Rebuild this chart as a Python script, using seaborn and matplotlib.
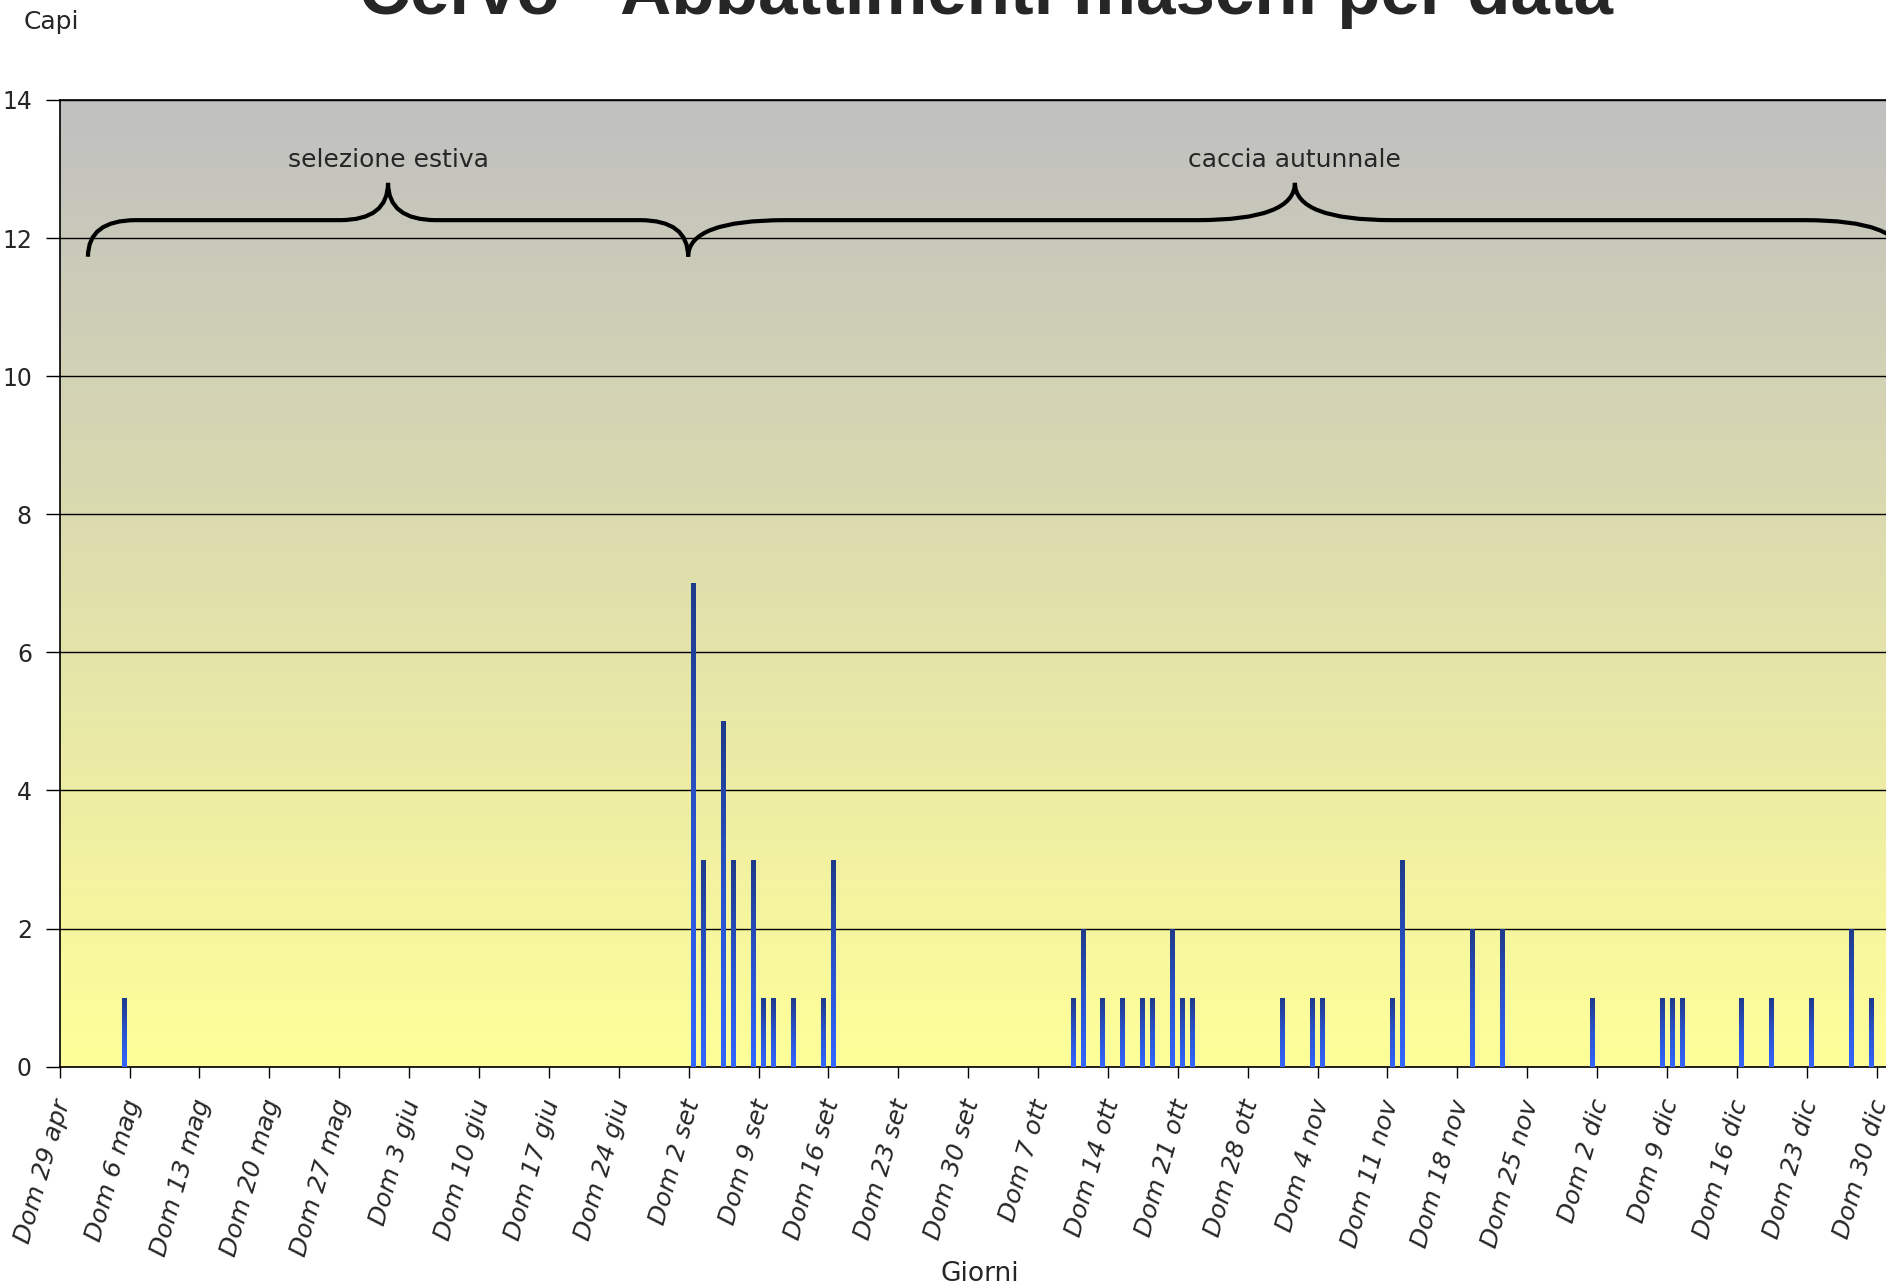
import numpy as np
import pandas as pd
import matplotlib
matplotlib.use('Agg')
import matplotlib.pyplot as plt
import matplotlib.transforms as mtransforms
from matplotlib.colors import LinearSegmentedColormap
from matplotlib.path import Path
from matplotlib.patches import PathPatch
import seaborn as sns

# periodi di caccia riportati sull'asse (solo i giorni aperti)
periodi = [('2007-04-29', '2007-06-30'), ('2007-09-02', '2007-12-31')]
fasi = ['selezione estiva', 'caccia autunnale']

# giorni con abbattimenti e capi abbattuti
giorni = ['2007-05-05', '2007-09-02', '2007-09-03', '2007-09-05', '2007-09-06',
          '2007-09-08', '2007-09-09', '2007-09-10', '2007-09-12', '2007-09-15',
          '2007-09-16', '2007-10-10', '2007-10-11', '2007-10-13', '2007-10-15',
          '2007-10-17', '2007-10-18', '2007-10-20', '2007-10-21', '2007-10-22',
          '2007-10-31', '2007-11-03', '2007-11-04', '2007-11-11', '2007-11-12',
          '2007-11-19', '2007-11-22', '2007-12-01', '2007-12-08', '2007-12-09',
          '2007-12-10', '2007-12-16', '2007-12-19', '2007-12-23', '2007-12-27',
          '2007-12-29']
capi = [1, 7, 3, 5, 3,
        3, 1, 1, 1, 1,
        3, 1, 2, 1, 1,
        1, 1, 2, 1, 1,
        1, 1, 1, 1, 3,
        2, 2, 1, 1, 1,
        1, 1, 1, 1, 2,
        1]

mesi = {4: 'apr', 5: 'mag', 6: 'giu', 7: 'lug', 8: 'ago', 9: 'set',
        10: 'ott', 11: 'nov', 12: 'dic'}
giorni_sett = ['Lun', 'Mar', 'Mer', 'Gio', 'Ven', 'Sab', 'Dom']

# calendario completo dei giorni sull'asse
calendario = pd.DatetimeIndex(np.concatenate([pd.date_range(a, b).values for a, b in periodi]))
df = pd.DataFrame({'data': calendario})
df['capi'] = df['data'].map(dict(zip(pd.to_datetime(giorni), capi))).fillna(0)
df['giorno'] = df['data'].dt.strftime('%Y-%m-%d')
n = len(df)

sns.set_style('ticks')
plt.rcParams['font.family'] = ['DejaVu Sans']

fig = plt.figure(figsize=(18.86, 12.87), dpi=100)
ax = fig.add_axes([0.03165, 0.1712, 0.974, 0.7511])

sns.barplot(data=df, x='giorno', y='capi', order=df['giorno'], color='#3366ff',
            width=0.5, errorbar=None, ax=ax, zorder=3, linewidth=0)

grad = np.linspace(0, 1, 256).reshape(-1, 1)

# sfondo sfumato grigio -> giallo
cmap_fondo = LinearSegmentedColormap.from_list('fondo', ['#ffff99', '#c0c0c0'])
ax.imshow(grad, extent=[0, 1, 0, 1], transform=ax.transAxes, origin='lower',
          cmap=cmap_fondo, aspect='auto', zorder=0, interpolation='bilinear')

# barre sfumate
cmap_barre = LinearSegmentedColormap.from_list('barre', ['#3366ff', '#2a52cc', '#1e3a8a'])
for p in list(ax.patches):
    h = p.get_height()
    if h > 0:
        x0 = p.get_x()
        im = ax.imshow(grad, extent=[x0, x0 + p.get_width(), 0, h], origin='lower',
                       cmap=cmap_barre, aspect='auto', zorder=3.5, interpolation='bilinear')
        im.set_clip_path(p)

ax.set_xlim(-0.5, n - 0.5)
ax.set_ylim(0, 14)
ax.set_yticks(range(0, 15, 2))
ax.yaxis.grid(True, color='black', linewidth=1)
ax.set_axisbelow(True)
for s in ax.spines.values():
    s.set_color('black')
    s.set_linewidth(1.2)

pos = np.arange(0, n, 7)
etichette = [f"{giorni_sett[d.weekday()]} {d.day} {mesi[d.month]}" for d in df['data'].iloc[pos]]
ax.set_xticks(pos - 0.5)
ax.set_xticklabels(etichette, rotation=74, ha='right', rotation_mode='anchor',
                   va='center', fontsize=18, style='italic')
ax.tick_params(axis='x', length=8, width=1, pad=16, color='black')
ax.tick_params(axis='y', length=10, width=1, pad=10, labelsize=17, color='black')
offset = mtransforms.ScaledTranslation(4 / 100, 0, fig.dpi_scale_trans)
for lab in ax.get_xticklabels():
    lab.set_transform(lab.get_transform() + offset)
ax.set_xlabel('')
ax.set_ylabel('')


def graffa(ax, x0, x1, y0, yh, yp, testo):
    xm = (x0 + x1) / 2
    c = 0.08 * (x1 - x0)
    verts = [(x0, y0), (x0, yh), (x0 + c, yh),
             (xm - c, yh), (xm, yh), (xm, yp),
             (xm, yh), (xm + c, yh),
             (x1 - c, yh), (x1, yh), (x1, y0)]
    codes = [Path.MOVETO, Path.CURVE3, Path.CURVE3,
             Path.LINETO, Path.CURVE3, Path.CURVE3,
             Path.CURVE3, Path.CURVE3,
             Path.LINETO, Path.CURVE3, Path.CURVE3]
    ax.add_patch(PathPatch(Path(verts, codes), fill=False, lw=3, color='black',
                           zorder=5, clip_on=False, capstyle='butt'))
    ax.text(xm, 13.13, testo, ha='center', va='center', fontsize=18, zorder=6)


graffa(ax, 2.33, 62.45, 11.73, 12.26, 12.8, fasi[0])
graffa(ax, 62.45, 184.0, 11.73, 12.26, 12.8, fasi[1])

fig.text(0.523, 1 - 14 / 1287, 'Cervo - Abbattimenti maschi per data', ha='center',
         va='baseline', fontsize=51, fontweight='bold', family='Liberation Sans')
fig.text(24 / 1886, 1 - 29 / 1287, 'Capi', ha='left', va='baseline', fontsize=18)
fig.text(980 / 1886, 1 - 1281 / 1287, 'Giorni', ha='center', va='baseline', fontsize=19)

fig.savefig('out.png', dpi=100)
